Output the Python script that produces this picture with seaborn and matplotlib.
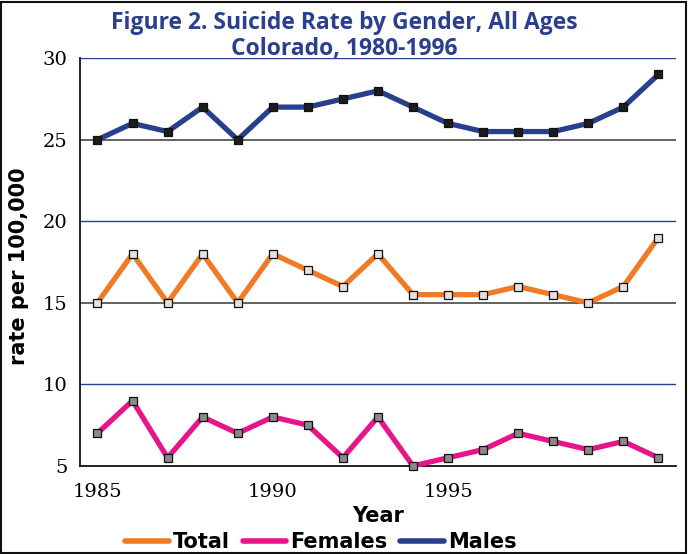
import numpy as np
import pandas as pd
import matplotlib
matplotlib.use('Agg')
import matplotlib.pyplot as plt
import seaborn as sns
from matplotlib.lines import Line2D
from matplotlib.patches import Rectangle

# data
years = list(range(1985, 2002))
males = [25, 26, 25.5, 27, 25, 27, 27, 27.5, 28, 27, 26, 25.5, 25.5, 25.5, 26, 27, 29]
total = [15, 18, 15, 18, 15, 18, 17, 16, 18, 15.5, 15.5, 15.5, 16, 15.5, 15, 16, 19]
females = [7, 9, 5.5, 8, 7, 8, 7.5, 5.5, 8, 5, 5.5, 6, 7, 6.5, 6, 6.5, 5.5]
series_names = ['Total', 'Females', 'Males']
y_ticks = [5, 10, 15, 20, 25, 30]
x_labels = [1985, 1990, 1995]

colors = {'Total': '#f07a25', 'Females': '#e8148c', 'Males': '#283f8e'}
faces = {'Total': '#e2e2e2', 'Females': '#8a8a8a', 'Males': '#1c1c1c'}

df = pd.DataFrame({'Year': years, 'Total': total, 'Females': females, 'Males': males})
long_df = df.melt(id_vars='Year', var_name='series', value_name='rate')

sns.set_style('white')
plt.rcParams['font.family'] = ['DejaVu Sans']
plt.rcParams['text.color'] = 'black'
plt.rcParams['axes.labelcolor'] = 'black'

fig = plt.figure(figsize=(6.89, 5.54), dpi=100)
ax = fig.add_axes([0.116, 0.159, 0.865, 0.736])

# horizontal reference lines
for yv in [10, 20, 30]:
    ax.axhline(yv, color='#2a3f90', lw=1.0, zorder=1)
for yv in [15, 25]:
    ax.axhline(yv, color='#555555', lw=1.3, zorder=1)

for name in ['Males', 'Total', 'Females']:
    sub = long_df[long_df['series'] == name]
    sns.lineplot(data=sub, x='Year', y='rate', ax=ax, color=colors[name],
                 lw=3.8, marker='s', markersize=6, markerfacecolor=faces[name],
                 markeredgecolor='#111111', markeredgewidth=0.9, legend=False,
                 zorder=3, clip_on=False)

ax.set_xlim(1984.5, 2001.5)
ax.set_ylim(5, 30)
ax.set_yticks(y_ticks)
ax.set_yticklabels([str(v) for v in y_ticks], family='DejaVu Serif', fontsize=14, color='black')
ax.set_xticks(x_labels)
ax.set_xticklabels([str(v) for v in x_labels], family='DejaVu Serif', fontsize=14, color='black')
ax.set_xticks(np.arange(1985.5, 2001.6, 1), minor=True)
ax.tick_params(axis='x', which='major', length=0, pad=12)
ax.tick_params(axis='x', which='minor', direction='in', length=6, width=1, color='#222222')
ax.tick_params(axis='y', length=0, pad=9)

for s in ['top', 'right']:
    ax.spines[s].set_visible(False)
for s in ['left', 'bottom']:
    ax.spines[s].set_color('#111111')
    ax.spines[s].set_linewidth(1.3)

ax.set_xlabel('Year', fontsize=15, fontweight='heavy', labelpad=4)
ax.set_ylabel('rate per 100,000', fontsize=15, fontweight='heavy')
ax.yaxis.set_label_coords(-0.085, 0.49)

fig.suptitle('Figure 2. Suicide Rate by Gender, All Ages\nColorado, 1980-1996',
             fontsize=16.5, fontweight='bold', family='Open Sans', color='#2a3f90',
             y=0.98, linespacing=1.1)

handles = [Line2D([0], [0], color=colors[n], lw=4) for n in series_names]
fig.legend(handles, series_names, loc='lower center', bbox_to_anchor=(0.466, -0.03),
           ncol=3, frameon=False, prop={'weight': 'heavy', 'size': 15},
           handlelength=2.1, handletextpad=0.2, columnspacing=0.6)

fig.patches.append(Rectangle((0.002, 0.002), 0.994, 0.994, transform=fig.transFigure,
                             fill=False, edgecolor='#111111', lw=1.5))

fig.savefig('out.png', dpi=100)
